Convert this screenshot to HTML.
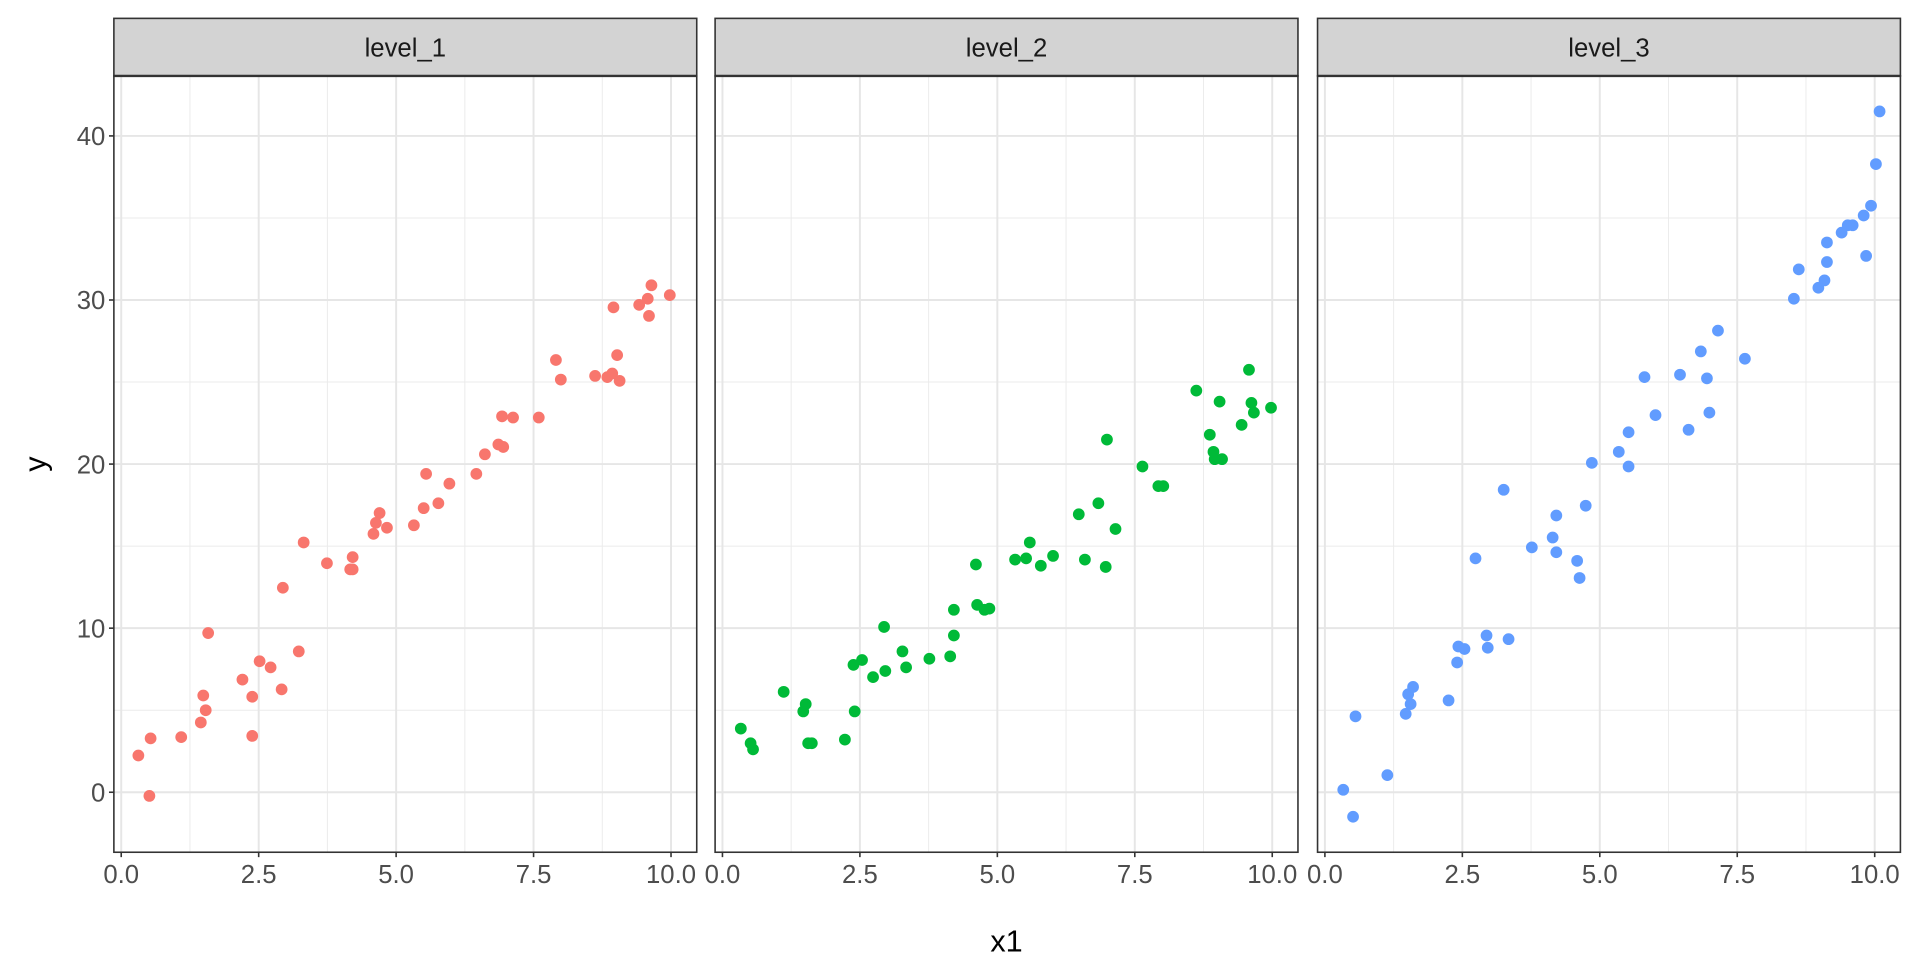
<!DOCTYPE html>
<html><head><meta charset="utf-8"><style>html,body{margin:0;padding:0;background:#fff}svg{display:block}</style></head>
<body>
<svg width="1920" height="960" viewBox="0 0 1568 784" preserveAspectRatio="none" xmlns="http://www.w3.org/2000/svg" font-family="Liberation Sans, sans-serif">
<rect width="1568" height="784" fill="#fff"/>
<g id="panels"></g>
<text x="822" y="777" font-size="25" text-anchor="middle" fill="#000">x1</text>
<text transform="translate(37,379) rotate(-90)" font-size="25" text-anchor="middle" fill="#000">y</text>
<script>
(function(){
var NS="http://www.w3.org/2000/svg",g=document.getElementById("panels");
function el(t,a,txt){var e=document.createElementNS(NS,t);for(var k in a)e.setAttribute(k,a[k]);if(txt!==undefined)e.textContent=txt;g.appendChild(e);return e;}
var lefts=[93,584,1076],W=476,T=62,B=696,ST=15;
var names=["level_1","level_2","level_3"],cols=["#F8766D","#00BA38","#619CFF"];
function yp(v){return 647-v*13.4;}
var pts=[
[[113,617],[123,603],[122,650],[148,602],[164,590],[166,568],[168,580],[170,517],[198,555],[206,569],[206,601],[212,540],[221,545],[230,563],[231,480],[244,532],[248,443],[267,460],[286,465],[288,465],[288,455],[305,436],[307,427],[310,419],[316,431],[338,429],[346,415],[348,387],[358,411],[367,395],[389,387],[396,371],[407,363],[410,340],[411,365],[419,341],[440,341],[454,294],[458,310],[486,307],[496,308],[500,305],[501,251],[504,290],[506,311],[522,249],[529,244],[530,258],[532,233],[547,241]],
[[605,595],[613,607],[615,612],[640,565],[656,581],[658,575],[660,607],[663,607],[690,604],[697,543],[698,581],[704,539],[713,553],[722,512],[723,548],[737,532],[740,545],[759,538],[776,536],[779,498],[779,519],[797,461],[798,494],[804,498],[808,497],[829,457],[838,456],[841,443],[850,462],[860,454],[881,420],[886,457],[897,411],[903,463],[904,359],[911,432],[933,381],[946,397],[950,397],[977,319],[988,355],[991,369],[992,375],[996,328],[998,375],[1014,347],[1020,302],[1022,329],[1024,337],[1038,333]],
[[1097,645],[1105,667],[1107,585],[1133,633],[1148,583],[1150,567],[1152,575],[1154,561],[1183,572],[1190,541],[1191,528],[1196,530],[1205,456],[1214,519],[1215,529],[1232,522],[1228,400],[1251,447],[1268,439],[1271,421],[1271,451],[1288,458],[1290,472],[1295,413],[1300,378],[1322,369],[1330,353],[1330,381],[1343,308],[1352,339],[1372,306],[1379,351],[1389,287],[1394,309],[1396,337],[1403,270],[1425,293],[1465,244],[1469,220],[1485,235],[1490,229],[1492,198],[1492,214],[1504,190],[1509,184],[1513,184],[1522,176],[1524,209],[1528,168],[1532,134],[1535,91]]];
for(var p=0;p<3;p++){
 var L=lefts[p],R=L+W,x0=L+6;
 el("rect",{x:L,y:T,width:W,height:B-T,fill:"#fff"});
 for(var i=0;i<4;i++){var x=x0+(1.25+2.5*i)*44.9;el("line",{x1:x,x2:x,y1:T,y2:B,stroke:"#ebebeb","stroke-width":0.8});}
 [5,15,25,35].forEach(function(v){var y=yp(v);el("line",{x1:L,x2:R,y1:y,y2:y,stroke:"#ebebeb","stroke-width":0.8});});
 for(var i=0;i<=4;i++){var x=x0+2.5*i*44.9;el("line",{x1:x,x2:x,y1:T,y2:B,stroke:"#e6e6e6","stroke-width":1.6});
   el("line",{x1:x,x2:x,y1:B,y2:B+4,stroke:"#333","stroke-width":1.3});
   el("text",{x:x,y:B+25,"font-size":21,"text-anchor":"middle",fill:"#4d4d4d"},["0.0","2.5","5.0","7.5","10.0"][i]);}
 [0,10,20,30,40].forEach(function(v){var y=yp(v);el("line",{x1:L,x2:R,y1:y,y2:y,stroke:"#e6e6e6","stroke-width":1.6});
   if(p==0){el("line",{x1:L-4,x2:L,y1:y,y2:y,stroke:"#333","stroke-width":1.3});
   el("text",{x:L-7,y:y+7.5,"font-size":21,"text-anchor":"end",fill:"#4d4d4d"},String(v));}});
 pts[p].forEach(function(q){el("circle",{cx:q[0],cy:q[1],r:4.8,fill:cols[p]});});
 el("rect",{x:L,y:T,width:W,height:B-T,fill:"none",stroke:"#333","stroke-width":1.3});
 el("rect",{x:L,y:ST,width:W,height:T-ST,fill:"#d3d3d3",stroke:"#333","stroke-width":1.3});
 el("line",{x1:L,x2:R,y1:T,y2:T,stroke:"#333","stroke-width":2});
 el("text",{x:L+W/2,y:(ST+T)/2+7.5,"font-size":21,"text-anchor":"middle",fill:"#1a1a1a"},names[p]);
}
})();
</script>
</svg>
</body></html>
